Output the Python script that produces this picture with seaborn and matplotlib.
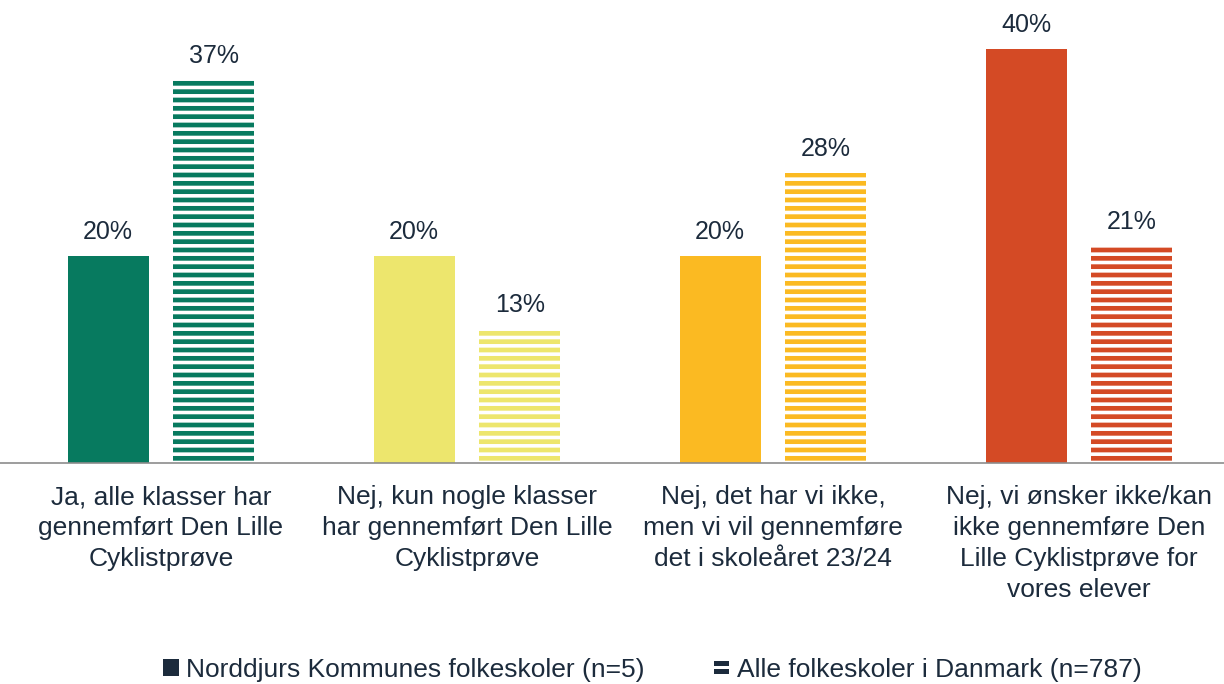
import pandas as pd
import matplotlib.pyplot as plt
import seaborn as sns
from matplotlib.patches import Patch, Rectangle
from matplotlib.legend_handler import HandlerBase

# Data
categories = [
    "Ja, alle klasser har\ngennemført Den Lille\nCyklistprøve",
    "Nej, kun nogle klasser\nhar gennemført Den Lille\nCyklistprøve",
    "Nej, det har vi ikke,\nmen vi vil gennemføre\ndet i skoleåret 23/24",
    "Nej, vi ønsker ikke/kan\nikke gennemføre Den\nLille Cyklistprøve for\nvores elever",
]
series = ["Norddjurs Kommunes folkeskoler (n=5)", "Alle folkeskoler i Danmark (n=787)"]
norddjurs = [0.20, 0.20, 0.20, 0.40]
danmark = [0.37, 0.13, 0.28, 0.21]
bar_colors = ["#077a5f", "#ede66d", "#fbba22", "#d44a25"]
text_color = "#1c2b3c"

df = pd.DataFrame({
    "kategori": categories * 2,
    "serie": [series[0]] * 4 + [series[1]] * 4,
    "andel": norddjurs + danmark,
})


# legend key for the striped series: two stacked bars, like "="
class StripeHandler(HandlerBase):
    def create_artists(self, legend, orig_handle, xdescent, ydescent,
                       width, height, fontsize, trans):
        h = height * 0.3
        top = Rectangle((-xdescent, -ydescent + height * 0.6), width, h,
                        facecolor=text_color, linewidth=0, transform=trans)
        bot = Rectangle((-xdescent, -ydescent + height * 0.1), width, h,
                        facecolor=text_color, linewidth=0, transform=trans)
        return [top, bot]


sns.set_style("white")
plt.rcParams["font.family"] = ["Liberation Sans", "DejaVu Sans"]
plt.rcParams["hatch.linewidth"] = 2.6

fig = plt.figure(figsize=(12.24, 6.84), dpi=100)
ax = fig.add_axes([0, 1 - 463 / 684, 1, 445 / 684])

sns.barplot(data=df, x="kategori", y="andel", hue="serie", width=0.69, gap=0.23,
            ax=ax, legend=False, errorbar=None)

# colour each bar by category; second series gets white horizontal stripes
for i, patch in enumerate(ax.containers[0]):
    patch.set_facecolor(bar_colors[i])
    patch.set_edgecolor(bar_colors[i])
    patch.set_linewidth(0)
for i, patch in enumerate(ax.containers[1]):
    patch.set_facecolor(bar_colors[i])
    patch.set_edgecolor("white")
    patch.set_hatch("--")
    patch.set_linewidth(0)

for cont in ax.containers:
    ax.bar_label(cont, labels=[f"{v.get_height():.0%}" for v in cont],
                 padding=8.5, fontsize=18, color=text_color)

ax.set_ylim(0, 0.43)
ax.set_xlim(-0.526, 3.474)
ax.set_xlabel("")
ax.set_ylabel("")
ax.set_yticks([])
ax.tick_params(axis="x", length=0, pad=16, labelsize=19, labelcolor=text_color)
for lbl in ax.get_xticklabels():
    lbl.set_linespacing(1.37)
for side in ["top", "right", "left"]:
    ax.spines[side].set_visible(False)
ax.spines["bottom"].set_color("#8c8c8c")
ax.spines["bottom"].set_linewidth(1.2)

handles = [
    Patch(facecolor=text_color, edgecolor=text_color, linewidth=0),
    Patch(facecolor=text_color),
]
fig.legend(handles, series, loc="center", bbox_to_anchor=(0.533, 1 - 670 / 684),
           ncol=2, frameon=False, fontsize=19, labelcolor=text_color,
           handlelength=0.58, handleheight=0.58, handletextpad=0.3, columnspacing=2.6,
           handler_map={handles[1]: StripeHandler()})

fig.savefig("out.png", dpi=100)
